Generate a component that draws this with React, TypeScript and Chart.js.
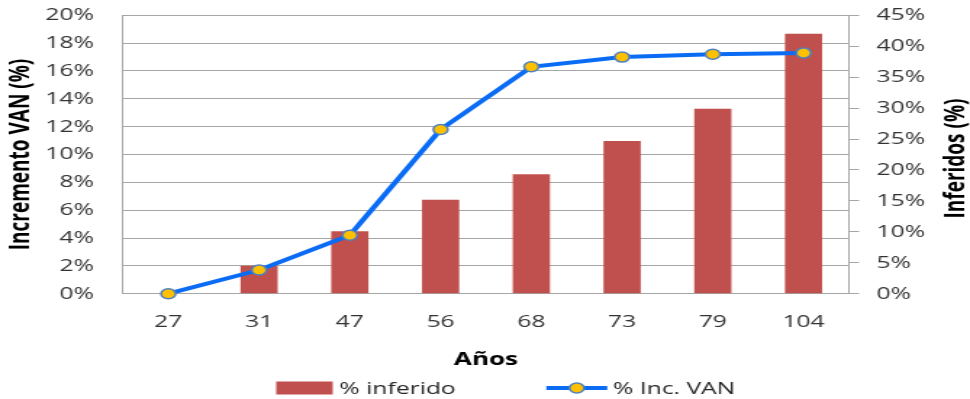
import React, { useEffect, useRef } from 'react';
import { Chart, registerables } from 'chart.js';

Chart.register(...registerables);

// ---- data ----
const categories = ['27', '31', '47', '56', '68', '73', '79', '104'];
const inferidoPct = [0, 4.5, 10.1, 15.2, 19.3, 24.7, 29.9, 42.0];
const incVanPct = [0, 1.7, 4.2, 11.8, 16.3, 17.0, 17.2, 17.3];
const seriesNames = ['% inferido', '% Inc. VAN'];
const leftAxisTitle = 'Incremento VAN (%)';
const rightAxisTitle = 'Inferidos (%)';
const xAxisTitle = 'Años';
const leftMin = 0, leftMax = 20, leftStep = 2;
const rightMin = 0, rightMax = 45, rightStep = 5;

// ---- look ----
const STRETCH = 1.45; // the reference is horizontally stretched
const OUT_W = 970;
const OUT_H = 399;
const IN_W = Math.round(OUT_W / STRETCH);
const FONT = '"Open Sans", "DejaVu Sans", sans-serif';
const barColor = '#C0504D';
const lineColor = '#0A6CF5';
const pointFill = '#FFC000';
const pointEdge = '#4F81BD';
const gridColor = '#A6A6A6';
const tickColor = '#333333';

const extrasPlugin = {
  id: 'extras',
  afterDraw(chart: any) {
    const ctx = chart.ctx as CanvasRenderingContext2D;
    const ca = chart.chartArea;
    // right axis title, reading bottom to top
    ctx.save();
    ctx.font = `bold 19px ${FONT}`;
    ctx.fillStyle = '#000';
    ctx.textAlign = 'center';
    ctx.textBaseline = 'middle';
    ctx.translate(chart.width - 9.5, (ca.top + ca.bottom) / 2 + 4);
    ctx.rotate(-Math.PI / 2);
    ctx.fillText(rightAxisTitle, 0, 0);
    ctx.restore();

    // legend
    const cy = chart.height - 11;
    const x0 = chart.width / 2 - 144;
    ctx.save();
    ctx.font = `17px ${FONT}`;
    ctx.textBaseline = 'middle';
    ctx.textAlign = 'left';
    // bar item
    ctx.fillStyle = barColor;
    ctx.fillRect(x0, cy - 6.5, 39, 13);
    ctx.fillStyle = '#262626';
    ctx.fillText(seriesNames[0], x0 + 43.5, cy + 1);
    // line item
    const lx = x0 + 186.3;
    ctx.strokeStyle = lineColor;
    ctx.lineWidth = 4;
    ctx.beginPath();
    ctx.moveTo(lx, cy);
    ctx.lineTo(lx + 42, cy);
    ctx.stroke();
    ctx.beginPath();
    ctx.arc(lx + 21, cy, 5, 0, Math.PI * 2);
    ctx.fillStyle = pointFill;
    ctx.fill();
    ctx.lineWidth = 1.5;
    ctx.strokeStyle = pointEdge;
    ctx.stroke();
    ctx.fillStyle = '#262626';
    ctx.fillText(seriesNames[1], lx + 46, cy + 1);
    ctx.restore();
  },
};

export default function App() {
  const ref = useRef<HTMLCanvasElement | null>(null);

  useEffect(() => {
    document.body.style.margin = '0';
    const canvas = ref.current;
    if (!canvas) return;
    Chart.defaults.font.family = FONT;

    const chart = new Chart(canvas, {
      type: 'bar',
      data: {
        labels: categories,
        datasets: [
          {
            type: 'line',
            label: seriesNames[1],
            data: incVanPct,
            yAxisID: 'y',
            borderColor: lineColor,
            borderWidth: 4,
            pointBackgroundColor: pointFill,
            pointBorderColor: pointEdge,
            pointBorderWidth: 1.5,
            pointRadius: 5,
            tension: 0,
            clip: false,
            order: 0,
          } as any,
          {
            type: 'bar',
            label: seriesNames[0],
            data: inferidoPct,
            yAxisID: 'y1',
            backgroundColor: barColor,
            barPercentage: 0.41,
            categoryPercentage: 1,
            order: 1,
          },
        ],
      },
      options: {
        animation: false,
        responsive: false,
        devicePixelRatio: 1,
        layout: { padding: { top: 15.3, bottom: 28, left: 0, right: 0 } },
        plugins: {
          legend: { display: false },
          tooltip: { enabled: false },
        },
        scales: {
          x: {
            offset: true,
            grid: { display: false, drawTicks: false },
            border: { display: true, color: gridColor, width: 1 },
            ticks: { padding: 18, color: tickColor, font: { size: 17 } },
            title: {
              display: true,
              text: xAxisTitle,
              color: '#000',
              font: { size: 18, weight: 'bold' },
              padding: { top: 0, bottom: 0 },
            },
            afterFit(scale: any) {
              scale.height = 77.3;
              scale.paddingLeft = 0;
              scale.paddingRight = 0;
            },
          },
          y: {
            position: 'left',
            min: leftMin,
            max: leftMax,
            ticks: {
              stepSize: leftStep,
              padding: 20,
              color: tickColor,
              font: { size: 17 },
              callback: (v: any) => `${v}%`,
            },
            grid: { color: gridColor, lineWidth: 1, drawTicks: false },
            border: { display: true, color: gridColor, width: 1 },
            title: {
              display: true,
              text: leftAxisTitle,
              color: '#000',
              font: { size: 19, weight: 'bold', lineHeight: 1 },
              padding: { top: 5.3, bottom: 0 },
            },
            afterFit(scale: any) {
              scale.width = 84.8;
              scale.paddingTop = 0;
              scale.paddingBottom = 0;
            },
          },
          y1: {
            position: 'right',
            min: rightMin,
            max: rightMax,
            ticks: {
              stepSize: rightStep,
              padding: 12,
              color: tickColor,
              font: { size: 17 },
              callback: (v: any) => `${v}%`,
            },
            grid: {
              drawOnChartArea: false,
              drawTicks: true,
              tickLength: 7,
              color: gridColor,
            },
            border: { display: true, color: gridColor, width: 1 },
            afterFit(scale: any) {
              scale.width = 83.5;
              scale.paddingTop = 0;
              scale.paddingBottom = 0;
            },
          },
        },
      } as any,
      plugins: [extrasPlugin],
    });

    return () => chart.destroy();
  }, []);

  return (
    <div style={{ width: OUT_W, height: OUT_H }}>
      <canvas
        ref={ref}
        width={IN_W}
        height={OUT_H}
        style={{ width: `${OUT_W}px`, height: `${OUT_H}px`, display: 'block' }}
      />
    </div>
  );
}
